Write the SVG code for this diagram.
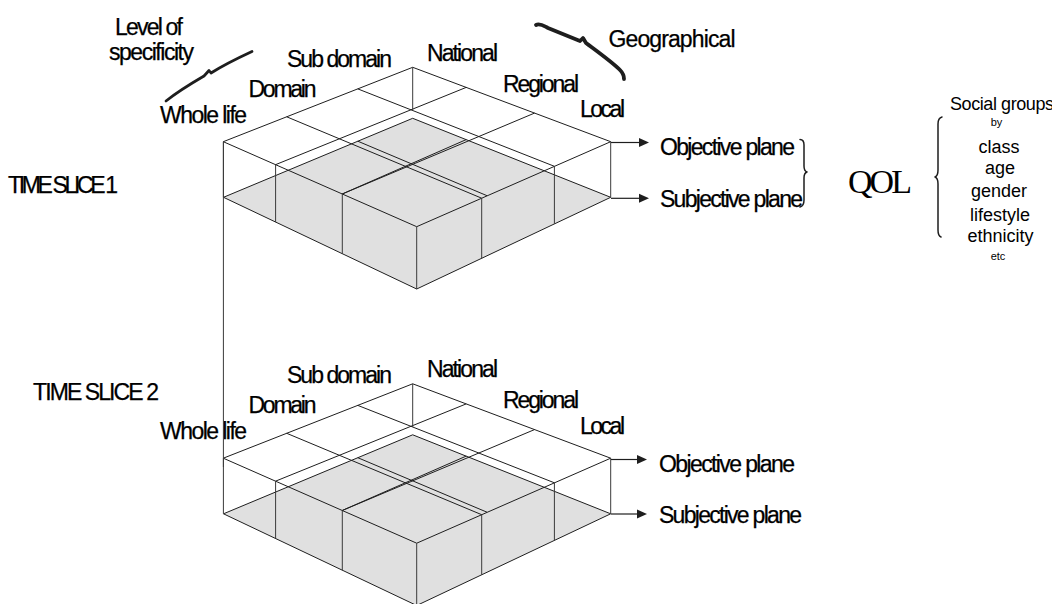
<svg xmlns="http://www.w3.org/2000/svg" width="1052" height="604" viewBox="0 0 1052 604">
<style>
.bg{fill:#ffffff}
.ln{stroke:#1e1e1e;stroke-width:1;fill:none}
.vt{stroke:#3a3a3a;stroke-width:1;fill:none}
.grey{fill:#e0e0e0;stroke:none}
.lbl{font-family:"Liberation Sans",Arial,sans-serif;font-size:23px;fill:#000;stroke:#000;stroke-width:0.25}
.lst{font-family:"Liberation Sans",Arial,sans-serif;font-size:18px;fill:#000;text-anchor:middle}
.sml{font-family:"Liberation Sans",Arial,sans-serif;font-size:11px;fill:#000;text-anchor:middle}
.qol{font-family:"Liberation Serif","Times New Roman",serif;font-size:34px;fill:#000}
.brace{stroke:#1e1e1e;stroke-width:1.5;fill:none;stroke-linecap:round;stroke-linejoin:round}
.squig{stroke:#1e1e1e;fill:none;stroke-linecap:round;stroke-linejoin:round}
.arr{stroke:#1e1e1e;stroke-width:1.2;fill:none}
.head{fill:#1e1e1e;stroke:none}
</style>
<defs>
<path id="ah" class="head" d="M-10,-4.5 L0,0 L-10,4.5 Z"/>
<g id="slab">
<polygon class="grey" points="223.5,197.3 412.7,118.3 610.7,197.3 416.7,289"/>
<polyline class="ln" points="223.5,197.3 412.7,118.3 610.7,197.3"/>
<line class="ln" x1="357.8" y1="141.2" x2="487" y2="195.7"/>
<line class="ln" x1="342.2" y1="194" x2="466.2" y2="139.6"/>
<polygon class="ln" points="223.3,141.7 412.7,67.3 610.7,141.7 416.7,226.7"/>
<line class="ln" x1="286.7" y1="116.8" x2="481.7" y2="198.2"/>
<line class="ln" x1="357.8" y1="88.9" x2="554.4" y2="166.3"/>
<line class="ln" x1="275.5" y1="164.7" x2="466.2" y2="87.4"/>
<line class="ln" x1="342.2" y1="194" x2="534.5" y2="113.1"/>
<polyline class="ln" points="223.5,197.3 416.7,289 610.7,197.3"/>
<line class="vt" x1="275.6" y1="164.7" x2="275.6" y2="222.1"/>
<line class="vt" x1="342.3" y1="194" x2="342.3" y2="253.7"/>
<line class="vt" x1="416.7" y1="226.7" x2="416.7" y2="289"/>
<line class="vt" x1="481.7" y1="198.2" x2="481.7" y2="258.3"/>
<line class="vt" x1="554.4" y1="166.3" x2="554.4" y2="223.9"/>
<line class="vt" x1="610.7" y1="141.7" x2="610.7" y2="197.3"/>
<line class="vt" x1="223.4" y1="141.7" x2="223.4" y2="197.3"/>
<line class="vt" x1="412.7" y1="67.3" x2="412.7" y2="110.5"/>
</g>
</defs>
<rect class="bg" x="0" y="0" width="1052" height="604"/>

<g id="time-slice-1">
<use href="#slab"/>
<text class="lbl" x="8" y="193" font-size="21" textLength="110">TIME SLICE 1</text>
</g>

<g id="time-slice-2">
<use href="#slab" transform="translate(0,316.5)"/>
<text class="lbl" x="33" y="400" textLength="126">TIME SLICE 2</text>
</g>

<g id="axis-labels-1">
<text class="lbl" x="115" y="35" textLength="68">Level of</text>
<text class="lbl" x="109" y="60" textLength="85">specificity</text>
<text class="lbl" x="287" y="66.7" textLength="105">Sub domain</text>
<text class="lbl" x="248.5" y="96.7" textLength="68">Domain</text>
<text class="lbl" x="160" y="122.7" textLength="87">Whole life</text>
<text class="lbl" x="427" y="60.7" textLength="71">National</text>
<text class="lbl" x="503" y="91.7" textLength="76">Regional</text>
<text class="lbl" x="580" y="117.3" textLength="45">Local</text>
<text class="lbl" x="608.5" y="46.7" textLength="127">Geographical</text>
<text class="lbl" x="660" y="155" textLength="135">Objective plane</text>
<text class="lbl" x="660" y="206.7" textLength="143">Subjective plane</text>
</g>

<g id="axis-labels-2">
<text class="lbl" x="287" y="383.2" textLength="105">Sub domain</text>
<text class="lbl" x="248.5" y="413.2" textLength="68">Domain</text>
<text class="lbl" x="160" y="439.2" textLength="87">Whole life</text>
<text class="lbl" x="427" y="377.2" textLength="71">National</text>
<text class="lbl" x="503" y="408.2" textLength="76">Regional</text>
<text class="lbl" x="580" y="433.8" textLength="45">Local</text>
<text class="lbl" x="659" y="471.5" textLength="136">Objective plane</text>
<text class="lbl" x="659" y="523.2" textLength="143">Subjective plane</text>
</g>

<g id="braces">
<path class="squig" stroke-width="2.8" d="M166,101 C176,93 192,83 204,76 L209,70.5 L211,73 C222,66 238,58 252,51.5"/>
<path class="squig" stroke-width="3.8" d="M536,25 C540,23 544,26 548,28 L580,41 L583,38 L586,43 C598,52 612,62 620,70 C623,73 624,76 624,79"/>
<path class="brace" d="M800,139.5 Q804,139.5 804,145 L804,166 Q804,171 807,172 Q804,173 804,178 L804,200 Q804,206 800,207"/>
<path class="brace" d="M942,117 Q938,118 938,124 L938,170 Q938,176 935,177 Q938,178 938,184 L938,230 Q938,236 941,237"/>
</g>

<g id="qol">
<text class="qol" x="848" y="193.3" textLength="64">QOL</text>
</g>

<g id="social-groups">
<text class="lst" x="1002" y="110" textLength="104">Social groups</text>
<text class="sml" x="996.5" y="126">by</text>
<text class="lst" x="999" y="153.3">class</text>
<text class="lst" x="1000" y="174">age</text>
<text class="lst" x="999" y="197.3">gender</text>
<text class="lst" x="1000" y="220.7">lifestyle</text>
<text class="lst" x="1000.5" y="241.7">ethnicity</text>
<text class="sml" x="998" y="260">etc</text>
</g>

<g id="connectors">
<line class="vt" x1="223.4" y1="141.7" x2="223.4" y2="467"/>
<line class="arr" x1="611" y1="142.5" x2="640" y2="142.5"/>
<use href="#ah" x="649" y="142.5"/>
<line class="arr" x1="611" y1="198.3" x2="640" y2="198.3"/>
<use href="#ah" x="649" y="198.3"/>
<line class="arr" x1="611" y1="459.5" x2="638" y2="459.5"/>
<use href="#ah" x="647" y="459.5"/>
<line class="arr" x1="611" y1="514" x2="638" y2="514"/>
<use href="#ah" x="647" y="514"/>
</g>
</svg>
